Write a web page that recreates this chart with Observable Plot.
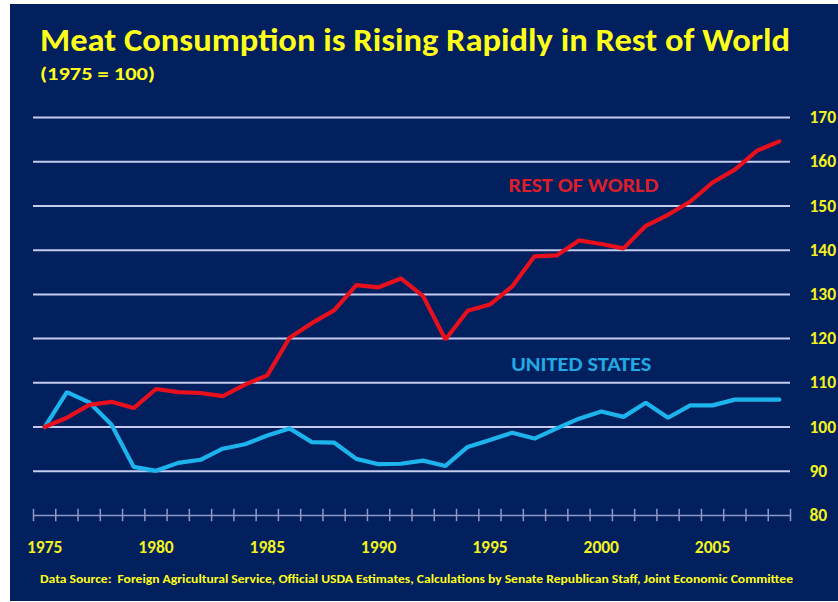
<!DOCTYPE html>
<html><head><meta charset="utf-8">
<script src="https://cdn.jsdelivr.net/npm/d3@7"></script>
<script src="https://cdn.jsdelivr.net/npm/@observablehq/plot@0.6"></script>
<style>
body{margin:0;background:#fff;width:838px;height:602px;overflow:hidden;font-family:Carlito,Lato,"Open Sans",sans-serif;}
#panel{position:absolute;left:10px;top:4px;width:828px;height:597px;background:#03205e;}
.t{position:absolute;color:#ffff1a;font-weight:700;white-space:nowrap;line-height:1;transform-origin:0 0;}
#title{left:30px;top:21px;font-size:32px;}
#subtitle{left:30px;top:62px;font-size:17px;}
#chart{position:absolute;left:0;top:86px;}
#caption{left:30px;top:569px;font-size:12px;}
</style></head>
<body>
<div id="panel">
  <div id="title" class="t">Meat Consumption is Rising Rapidly in Rest of World</div>
  <div id="subtitle" class="t">(1975 = 100)</div>
  <div id="chart"></div>
  <div id="caption" class="t">Data Source:&nbsp; Foreign Agricultural Service, Official USDA Estimates, Calculations by Senate Republican Staff, Joint Economic Committee</div>
</div>
<script>
const years = [1975,1976,1977,1978,1979,1980,1981,1982,1983,1984,1985,1986,1987,1988,1989,1990,1991,1992,1993,1994,1995,1996,1997,1998,1999,2000,2001,2002,2003,2004,2005,2006,2007,2008];
const restOfWorld = [100,102.1,105.0,105.7,104.3,108.6,107.9,107.7,107.0,109.6,111.7,120.2,123.5,126.4,132.1,131.6,133.6,129.6,119.8,126.3,127.7,131.8,138.6,138.8,142.2,141.4,140.4,145.5,148.0,151.0,155.3,158.2,162.5,164.6];
const unitedStates = [100,107.9,105.6,100.6,91.0,90.1,91.9,92.6,95.1,96.1,98.1,99.7,96.6,96.5,92.8,91.6,91.7,92.4,91.2,95.5,97.1,98.7,97.4,99.7,101.9,103.5,102.3,105.5,102.1,104.9,104.9,106.2,106.2,106.2];
const yTicks = [80,90,100,110,120,130,140,150,160,170];
const xTickLabels = [1975,1980,1985,1990,1995,2000,2005];
const seriesLabels = ["REST OF WORLD","UNITED STATES"];

const rowsR = years.map((y,i)=>({year:y, value:restOfWorld[i]}));
const rowsU = years.map((y,i)=>({year:y, value:unitedStates[i]}));
const x0 = years[0]-0.5, x1 = years[years.length-1]+0.5;
const boundaries = years.map(y=>y-0.5).concat([x1]);
const font = 'Carlito, Lato, "Open Sans", sans-serif';

const chart = Plot.plot({
  width:828, height:480,
  marginLeft:23, marginRight:48, marginTop:27, marginBottom:55,
  style:{background:"transparent", fontFamily:font, overflow:"visible"},
  x:{domain:[x0,x1]},
  y:{domain:[80,170]},
  marks:[
    Plot.ruleY(yTicks.filter(v=>v>yTicks[0]), {x1:x0, x2:x1, stroke:"#c5cbef", strokeWidth:2}),
    Plot.ruleY([yTicks[0]], {x1:x0, x2:x1, stroke:"#8e98c8", strokeWidth:1.5}),
    Plot.ruleX(boundaries, {y1:78.6, y2:81.4, stroke:"#8e98c8", strokeWidth:1.5}),
    Plot.line(rowsU, {x:"year", y:"value", stroke:"#1db3ec", strokeWidth:4.2, strokeLinejoin:"miter"}),
    Plot.line(rowsR, {x:"year", y:"value", stroke:"#e8101c", strokeWidth:4.2, strokeLinejoin:"miter"}),
    Plot.text([seriesLabels[0]], {x:1999.2, y:154.6, text:d=>d, fill:"#dc1f2b", fontSize:19.5, fontWeight:"bold", className:"lab-row"}),
    Plot.text([seriesLabels[1]], {x:1999.1, y:114.0, text:d=>d, fill:"#22a9e4", fontSize:19.5, fontWeight:"bold", className:"lab-us"}),
    Plot.axisY({anchor:"right", ticks:yTicks, tickSize:0, tickPadding:19, fontSize:17.5, fontWeight:"bold", fill:"#f2f21e", label:null}),
    Plot.axisX({ticks:xTickLabels, tickSize:0, tickPadding:25, tickFormat:d=>String(d), fontSize:17.5, fontWeight:"bold", fill:"#f2f21e", label:null})
  ]
});
document.getElementById("chart").appendChild(chart);

d3.select(chart).selectAll(".lab-row text").attr("textLength", 150).attr("lengthAdjust", "spacingAndGlyphs");
d3.select(chart).selectAll(".lab-us text").attr("textLength", 140).attr("lengthAdjust", "spacingAndGlyphs");

function fit(id, w){
  const el = document.getElementById(id);
  const cur = el.getBoundingClientRect().width;
  el.style.transform = `scaleX(${w/cur})`;
}
fit("title", 750);
fit("subtitle", 115);
fit("caption", 753);
</script>
</body></html>
